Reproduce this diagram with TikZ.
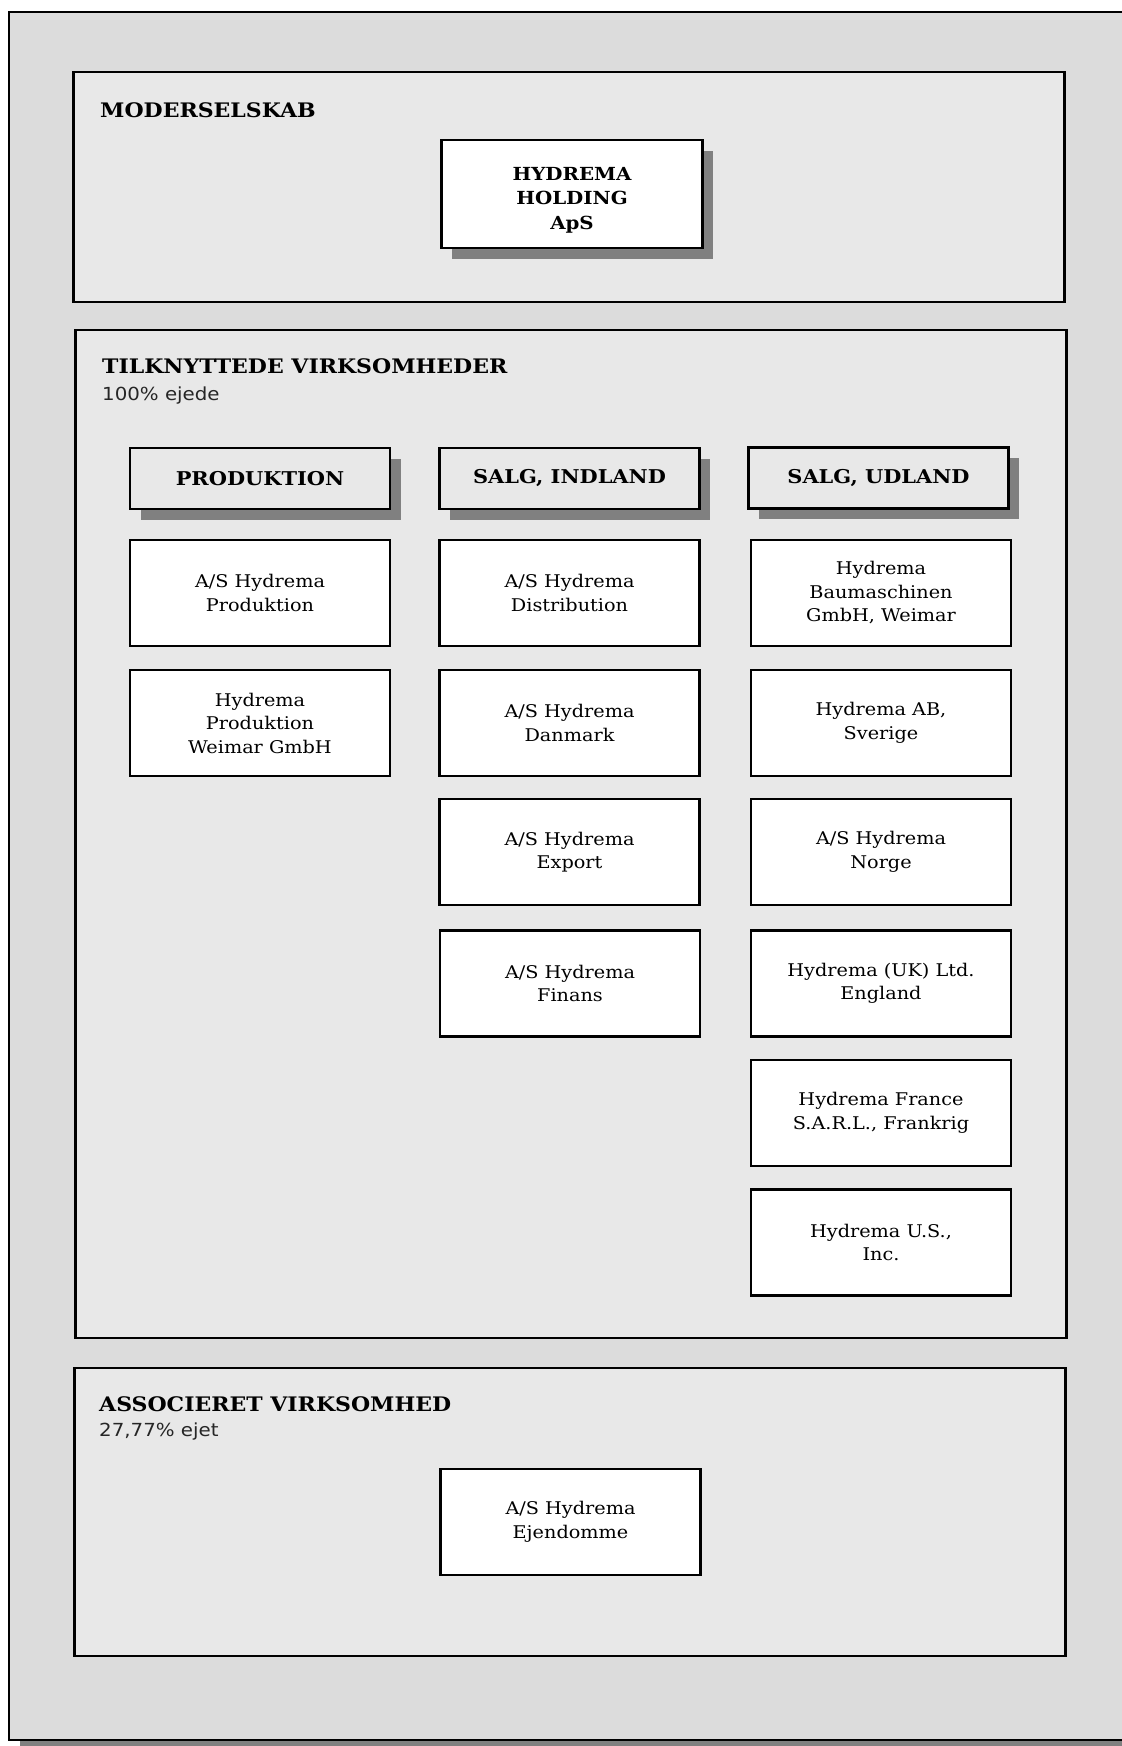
\documentclass[tikz,border=0pt]{standalone}
\usepackage{fontspec}
\setmainfont{DejaVu Serif}[FakeStretch=1.1]
\newfontfamily\lightfont{DejaVu Sans}[FakeStretch=1.1]
\usetikzlibrary{shapes,shadows,positioning}
\definecolor{outergray}{HTML}{DCDCDC}
\definecolor{panelgray}{HTML}{E8E8E8}
\definecolor{shadowgray}{HTML}{808080}

\begin{document}
\begin{tikzpicture}[x=1pt, y=-1pt]
		\tikzstyle{Shadowed} = [general shadow={fill=shadowgray, shadow xshift=10.5pt, shadow yshift=-10.5pt}]
		\tikzstyle{Frame}    = [rectangle, draw, line width=2.6pt, fill=outergray, inner sep=0pt]
		\tikzstyle{Panel}    = [rectangle, draw, line width=2.4pt, fill=panelgray, minimum width=991pt, inner sep=0pt]
		\tikzstyle{Title}    = [anchor=base west, inner sep=0pt, font=\bfseries\fontsize{20}{24}\selectfont]
		\tikzstyle{Share}    = [anchor=base west, inner sep=0pt, text=black!85, font=\lightfont\fontsize{18}{22}\selectfont]
		\tikzstyle{Holding}  = [rectangle, draw, line width=2.5pt, fill=white, minimum width=261pt, minimum height=108pt]
		\tikzstyle{HoldText} = [align=center, yshift=-6pt, font=\bfseries\fontsize{18}{24.5}\selectfont]
		\tikzstyle{Head}     = [rectangle, draw, line width=2.5pt, fill=panelgray, minimum width=260pt, minimum height=61pt, font=\bfseries\fontsize{19}{23}\selectfont]
		\tikzstyle{Unit}     = [rectangle, draw, line width=2.5pt, fill=white, minimum width=260pt, minimum height=106pt, align=center, font=\fontsize{17.5}{23.5}\selectfont]

		\useasboundingbox (0,0) rectangle (1122,1746);
		\clip (0,0) rectangle (1122,1746);

		\node (frame) at (575,876) [Frame][Shadowed, minimum width=1132pt, minimum height=1728pt] {};

		\node (moder) at (569,187) [Panel, minimum height=230pt] {};
		\node (tilk) at (571,834) [Panel, minimum height=1008pt] {};
		\node (assoc) at (570,1512) [Panel, minimum height=288pt] {};

		\node (modertitle) at (100,117) [Title] {MODERSELSKAB};
		\node (tilktitle) at (102,373) [Title] {TILKNYTTEDE VIRKSOMHEDER};
		\node (tilkshare) at (102,400) [Share] {100\% ejede};
		\node (assoctitle) at (99,1411) [Title] {ASSOCIERET VIRKSOMHED};
		\node (assocshare) at (99,1436) [Share] {27,77\% ejet};

		\node (holding) at (572,194) [Holding][Shadowed, label={[HoldText]center:HYDREMA\\HOLDING\\ApS}] {};

		\node (prod) at (260,478.5) [Head][Shadowed] {PRODUKTION};
		\node (indland) at (569.5,478.5) [Head][Shadowed] {SALG, INDLAND};
		\node (udland) at (878.5,478) [Head][Shadowed] {SALG, UDLAND};

		\node (p1) at (260,593) [Unit] {A/S Hydrema\\Produktion};
		\node (p2) at (260,723) [Unit] {Hydrema\\Produktion\\Weimar GmbH};

		\node (i1) at (569.5,593) [Unit] {A/S Hydrema\\Distribution};
		\node (i2) at (569.5,723) [Unit] {A/S Hydrema\\Danmark};
		\node (i3) at (569.5,852) [Unit] {A/S Hydrema\\Export};
		\node (i4) at (570,983.5) [Unit] {A/S Hydrema\\Finans};

		\node (u1) at (881,593) [Unit] {Hydrema\\Baumaschinen\\GmbH, Weimar};
		\node (u2) at (881,723) [Unit] {Hydrema AB,\\Sverige};
		\node (u3) at (881,852) [Unit] {A/S Hydrema\\Norge};
		\node (u4) at (881,983.5) [Unit] {Hydrema (UK) Ltd.\\England};
		\node (u5) at (881,1113) [Unit] {Hydrema France\\S.A.R.L., Frankrig};
		\node (u6) at (881,1242.5) [Unit] {Hydrema U.S.,\\Inc.};

		\node (a1) at (570.5,1522) [Unit] {A/S Hydrema\\Ejendomme};
	\end{tikzpicture}
\end{document}
